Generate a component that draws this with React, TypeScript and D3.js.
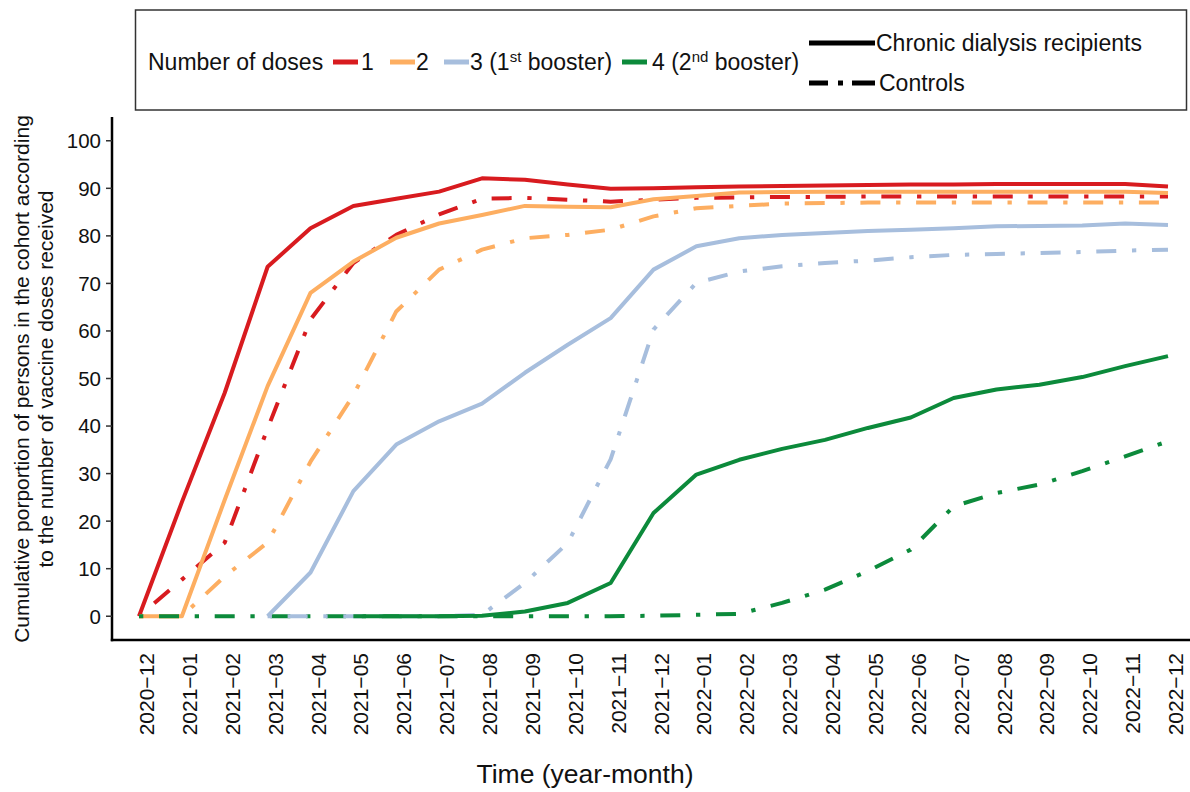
import React from "react";
import * as d3 from "d3";

// ─── Data ─────────────────────────────────────────────────────────────────────
const months = [
  "2020-12", "2021-01", "2021-02", "2021-03", "2021-04", "2021-05", "2021-06",
  "2021-07", "2021-08", "2021-09", "2021-10", "2021-11", "2021-12", "2022-01",
  "2022-02", "2022-03", "2022-04", "2022-05", "2022-06", "2022-07", "2022-08",
  "2022-09", "2022-10", "2022-11", "2022-12",
];

type V = number | null;

const dialysisDose1: V[] = [0, 24, 47, 73.5, 81.6, 86.3, 87.8, 89.3, 92.1, 91.8, 90.8, 89.9, 90.0, 90.2, 90.4, 90.5, 90.6, 90.7, 90.8, 90.8, 90.9, 90.9, 90.9, 90.9, 90.4];
const controlDose1: V[] = [0, 7.7, 15.5, 39.5, 62.4, 74.3, 80.2, 84.5, 87.8, 88.0, 87.6, 87.2, 87.6, 88.0, 88.1, 88.2, 88.2, 88.3, 88.3, 88.3, 88.3, 88.3, 88.3, 88.3, 88.3];
const dialysisDose2: V[] = [0, 0, 24.5, 48.4, 68, 74.6, 79.6, 82.6, 84.4, 86.3, 86.1, 86.0, 87.7, 88.4, 89.1, 89.2, 89.3, 89.3, 89.3, 89.3, 89.3, 89.3, 89.3, 89.3, 89.0];
const controlDose2: V[] = [0, 0, 8.4, 15.5, 32.5, 46.5, 64.1, 72.9, 77.1, 79.5, 80.2, 81.3, 84.1, 85.8, 86.3, 86.8, 86.9, 87, 87, 87, 87, 87, 87, 87, 87];
const dialysisDose3: V[] = [null, null, null, 0, 9.2, 26.3, 36.1, 41, 44.7, 51.2, 57.1, 62.7, 72.9, 77.8, 79.5, 80.2, 80.6, 81.0, 81.3, 81.6, 82.0, 82.1, 82.2, 82.6, 82.3];
const controlDose3: V[] = [null, null, null, 0, 0, 0, 0, 0, 0.3, 7, 15.4, 33, 60.3, 70.1, 72.5, 73.6, 74.3, 74.8, 75.5, 76, 76.2, 76.4, 76.6, 76.9, 77.1];
const dialysisDose4: V[] = [null, null, null, null, null, 0, 0, 0, 0.1, 1, 2.8, 7, 21.7, 29.8, 32.9, 35.2, 37.1, 39.6, 41.8, 45.9, 47.7, 48.7, 50.3, 52.6, 54.7];
const controlDose4: V[] = [0, 0, 0, 0, 0, 0, 0, 0, 0, 0, 0, 0, 0.1, 0.3, 0.5, 2.8, 5.6, 9.5, 14, 23.1, 25.9, 27.7, 30.5, 33.6, 36.8];

const yTicks = [0, 10, 20, 30, 40, 50, 60, 70, 80, 90, 100];

// ─── Design tokens ────────────────────────────────────────────────────────────
const RED = "#d81b1f";
const ORANGE = "#fdae61";
const BLUE = "#a7bedd";
const GREEN = "#0c8a3b";
const FONT = "'Liberation Sans', Arial, Helvetica, sans-serif";
const DOTDASH = "4.3,15.7,20,15.7";

// drawn in this order (later on top)
const series = [
  { values: dialysisDose1, color: RED, dash: null },
  { values: controlDose1, color: RED, dash: DOTDASH },
  { values: dialysisDose2, color: ORANGE, dash: null },
  { values: controlDose2, color: ORANGE, dash: DOTDASH },
  { values: controlDose4, color: GREEN, dash: DOTDASH },
  { values: dialysisDose3, color: BLUE, dash: null },
  { values: controlDose3, color: BLUE, dash: DOTDASH },
  { values: dialysisDose4, color: GREEN, dash: null },
];

const PANEL = { left: 112, right: 1190, top: 117, bottom: 640 };

export default function App() {
  const x = d3.scaleLinear().domain([0, months.length - 1]).range([139, 1168]);
  const y = d3.scaleLinear().domain([-5, 105]).range([PANEL.bottom, PANEL.top]);

  const line = d3
    .line<V>()
    .defined((d) => d !== null)
    .x((_, i) => x(i))
    .y((d) => y(d as number));

  return (
    <svg
      width={1190}
      height={792}
      style={{ position: "absolute", left: 0, top: 0, background: "#fff", fontFamily: FONT }}
    >
      {/* ── Series ───────────────────────────────────────────────── */}
      <g fill="none" strokeWidth={4} strokeLinejoin="round">
        {series.map((s, i) => (
          <path
            key={i}
            d={line(s.values) || ""}
            stroke={s.color}
            strokeDasharray={s.dash || undefined}
            strokeLinecap="butt"
          />
        ))}
      </g>

      {/* ── Axes ─────────────────────────────────────────────────── */}
      <line x1={PANEL.left} x2={PANEL.left} y1={PANEL.top} y2={PANEL.bottom + 1.2} stroke="#000" strokeWidth={2.5} />
      <line x1={PANEL.left - 1.2} x2={PANEL.right} y1={PANEL.bottom} y2={PANEL.bottom} stroke="#000" strokeWidth={2.5} />

      {yTicks.map((t) => (
        <g key={t} transform={`translate(0,${y(t)})`}>
          <line x1={PANEL.left - 6} x2={PANEL.left} stroke="#333" strokeWidth={1.5} />
          <text x={PANEL.left - 11} dy="0.36em" textAnchor="end" fontSize={20.5} fill="#111">
            {t}
          </text>
        </g>
      ))}

      {months.map((m, i) => (
        <text
          key={m}
          transform={`translate(${x(i) + 7.5},653) rotate(-90)`}
          textAnchor="end"
          dy="0.36em"
          fontSize={21}
          fill="#111"
        >
          {m.replace("-", "\u2212")}
        </text>
      ))}

      {/* ── Axis titles ──────────────────────────────────────────── */}
      <text x={585} y={783} textAnchor="middle" fontSize={26.5} fill="#111">
        Time (year-month)
      </text>
      <g transform="translate(0,379) rotate(-90)" fontSize={21} fill="#111" textAnchor="middle">
        <text x={0} y={29}>Cumulative porportion of persons in the cohort according</text>
        <text x={0} y={53}>to the number of vaccine doses received</text>
      </g>

      {/* ── Legend ───────────────────────────────────────────────── */}
      <rect x={135.5} y={10} width={1051} height={100} fill="#fff" stroke="#333" strokeWidth={1.5} />
      <g fontSize={23} fill="#111">
        <text x={148} y={62} dy="0.36em">Number of doses</text>

        <line x1={333} x2={358} y1={62} y2={62} stroke={RED} strokeWidth={5} />
        <text x={361} y={62} dy="0.36em">1</text>

        <line x1={390} x2={415} y1={62} y2={62} stroke={ORANGE} strokeWidth={5} />
        <text x={416} y={62} dy="0.36em">2</text>

        <line x1={444} x2={469} y1={62} y2={62} stroke={BLUE} strokeWidth={5} />
        <text x={470} y={62} dy="0.36em">
          3 (1<tspan fontSize={15} dy="-0.55em">st</tspan>
          <tspan dy="0.36em"> booster)</tspan>
        </text>

        <line x1={622} x2={647} y1={62} y2={62} stroke={GREEN} strokeWidth={5} />
        <text x={652} y={62} dy="0.36em">
          4 (2<tspan fontSize={15} dy="-0.55em">nd</tspan>
          <tspan dy="0.36em"> booster)</tspan>
        </text>

        <line x1={809} x2={875} y1={43} y2={43} stroke="#000" strokeWidth={5} />
        <text x={876} y={43} dy="0.36em">Chronic dialysis recipients</text>

        <line x1={809} x2={875} y1={83} y2={83} stroke="#000" strokeWidth={5} strokeDasharray="19,10,5,9,23" />
        <text x={879} y={83} dy="0.36em">Controls</text>
      </g>
    </svg>
  );
}
